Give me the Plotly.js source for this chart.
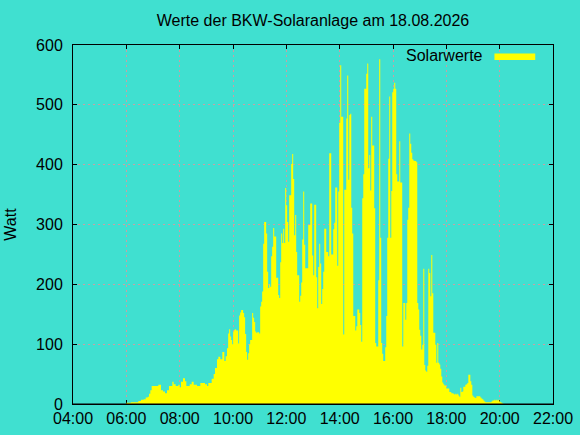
<!DOCTYPE html>
<html>
<head>
<meta charset="utf-8">
<script src="https://cdn.plot.ly/plotly-3.0.1.min.js"></script>
<style>html,body{margin:0;padding:0;background:#40e0d0;}#chart{width:580px;height:435px;}</style>
</head>
<body>
<div id="chart"></div>
<script>
// Time of each reading (minutes after midnight) and power in Watt (step values)
const minutes = [
360,370.5,387,393,399,403.5,408,411,414,417,432,438,442.5,447,451.5,456,463.5,466.5,471,477,
480,483,487.5,492,495,502.5,507,511.5,519,526.5,537,541.5,544.5,552,556.5,559.5,564,567,571.5,576,
580.5,583.5,586.5,
589.1,591.3,593.6,595.8,598.1,600.3,602.6,604.8,607.1,611.6,613.8,616.1,618.3,622.8,625.1,627.3,629.6,631.8,634.1,636.3,
638.6,643.1,645.4,647.6,649.9,652.1,654.4,658.9,661.1,663.4,665.6,667.9,670.1,674.6,676.9,679.1,681.4,683.6,685.9,688.1,
690.4,692.7,697.2,701.7,703.9,706.2,708.4,710.7,712.9,715.2,717.4,719.7,721.9,724.2,726.4,730.9,733.2,735.4,737.7,739.9,
742.2,744.4,749.0,
751.2,753.5,755.7,758.0,760.2,762.5,769.2,773.7,778.2,780.5,782.7,787.2,789.5,791.7,794.0,796.2,798.5,800.7,803.0,805.3,
809.8,814.3,816.5,821.0,825.5,827.8,830.0,834.5,836.8,839.0,841.3,843.5,848.0,850.3,854.8,857.0,859.3,861.5,863.8,866.1,
868.3,870.6,875.1,877.3,879.6,884.1,886.3,888.6,890.8,893.1,895.3,899.8,902.1,904.3,906.6,
908.8,911.0,913.3,917.8,920.0,922.3,926.8,929.0,931.3,933.5,935.8,938.0,942.5,944.8,947.0,949.3,951.6,953.8,956.1,958.3,
960.6,962.8,965.1,967.3,969.6,974.1,976.3,980.8,983.1,987.6,989.8,992.1,994.3,996.6,998.8,1001.1,1003.4,1005.6,1007.9,1012.4,
1014.6,1016.9,1019.1,1021.4,1023.6,1025.9,1028.1,1030.4,1032.6,1034.9,1037.1,1039.4,1041.6,1043.9,1046.1,1048.4,1050.7,1055.2,1057.4,1059.7,
1061.9,1064.2,
1066.4,1068.7,1070.9,1073.2,1075.4,1079.9,1086.7,1091.2,1095.7,1098.0,1100.2,1102.5,1104.7,1107.0,1109.2,1111.5,1113.7,1116.0,1118.2,1122.7,
1125.0,1127.2,1129.5,1134.0,1136.2,1138.5,1140.7,1143.0,1145.2,1147.5,1156.5,1158.8,1161.0,1163.3,1165.5,1167.8,1181.3,1183.5,1188.0,1190.3,
1192.5,1194.8,1197.0,1199.3,1201.5,1203.8,1206.0,1208.3
];
const watts = [
2,3,5,7,8,11,12,17,23,30,32,23,21,18,23,30,37,33,30,32,
28,37,43,38,30,33,37,32,30,35,33,30,35,42,50,60,75,79,75,87,
72,80,93,
118,125,113,107,100,121,124,125,123,101,148,153,157,152,145,117,87,74,85,100,
107,152,144,137,121,119,120,118,163,171,188,268,304,285,221,194,200,196,247,263,
294,280,211,182,177,237,285,269,293,269,361,332,304,271,349,401,418,376,282,316,
254,215,171,
181,203,275,355,266,227,299,335,248,215,333,212,160,229,268,235,167,192,221,293,
254,247,419,250,292,303,362,231,355,470,566,480,116,358,477,549,375,483,485,328,
285,147,123,130,158,152,132,104,344,384,527,552,569,394,416,
357,480,432,327,102,96,207,576,278,102,84,72,95,147,278,410,514,278,356,521,
527,537,527,384,372,439,370,96,169,141,169,308,328,452,435,420,409,407,406,404,
169,158,124,114,91,99,226,65,56,54,64,226,219,180,249,185,119,99,69,102,
69,66,
59,46,36,33,31,26,20,18,17,16,17,16,17,14,12,27,20,21,29,32,
33,35,49,38,32,14,12,11,10,13,11,9,8,6,4,3,4,6,7,6,
7,6,7,4,3,2,1,0
];
const tickMinutes = [240,360,480,600,720,840,960,1080,1200,1320];
const tickLabels = ['04:00','06:00','08:00','10:00','12:00','14:00','16:00','18:00','20:00','22:00'];
const seriesName = 'Solarwerte';

const font = {family: 'Liberation Sans, Arial, sans-serif', size: 16, color: '#000000'};
const gridColor = '#c9a0a4';

const trace = {
  x: minutes, y: watts, type: 'scatter', mode: 'lines',
  line: {shape: 'hv', width: 0, color: '#ffff00'},
  fill: 'tozeroy', fillcolor: '#ffff00',
  name: seriesName, showlegend: false, hoverinfo: 'x+y'
};

const layout = {
  width: 580, height: 435,
  margin: {l: 73, r: 27, t: 45, b: 31, pad: 0},
  paper_bgcolor: '#40e0d0', plot_bgcolor: '#40e0d0',
  font: font,
  title: {text: 'Werte der BKW-Solaranlage am 18.08.2026', font: font,
          x: 0.5, xref: 'paper', xanchor: 'center', y: 0.952, yref: 'container', yanchor: 'middle'},
  xaxis: {
    range: [240, 1320], tickmode: 'array', tickvals: tickMinutes, ticktext: tickLabels,
    ticks: 'inside', ticklen: 4, tickcolor: '#000', tickwidth: 1,
    showline: true, linecolor: '#000', linewidth: 1, mirror: 'ticks',
    showgrid: true, gridcolor: gridColor, griddash: '2px,3px', gridwidth: 1,
    zeroline: false, layer: 'below traces', tickfont: font, ticklabelstandoff: 0,
    fixedrange: true
  },
  yaxis: {
    range: [0, 600], tickmode: 'linear', tick0: 0, dtick: 100,
    ticks: 'inside', ticklen: 4, tickcolor: '#000', tickwidth: 1,
    showline: true, linecolor: '#000', linewidth: 1, mirror: 'ticks',
    showgrid: true, gridcolor: gridColor, griddash: '2px,3px', gridwidth: 1,
    zeroline: false, tickfont: font, ticklabelstandoff: 6,
    title: {text: 'Watt', font: font, standoff: 15},
    fixedrange: true
  },
  shapes: [
    {type: 'line', xref: 'paper', x0: 0, x1: 1, yref: 'y', y0: 0, y1: 0,
     line: {color: '#000', width: 1}, layer: 'above'},
    {type: 'rect', xref: 'paper', yref: 'paper', x0: 0.878, x1: 0.963, y0: 0.958, y1: 0.976,
     fillcolor: '#ffff00', line: {width: 0}, layer: 'above'}
  ],
  annotations: [
    {text: seriesName, xref: 'paper', yref: 'paper', x: 0.858, y: 0.9716,
     xanchor: 'right', yanchor: 'middle', showarrow: false, font: font}
  ],
  showlegend: false
};

Plotly.newPlot('chart', [trace], layout, {staticPlot: true, displayModeBar: false});
</script>
</body>
</html>
